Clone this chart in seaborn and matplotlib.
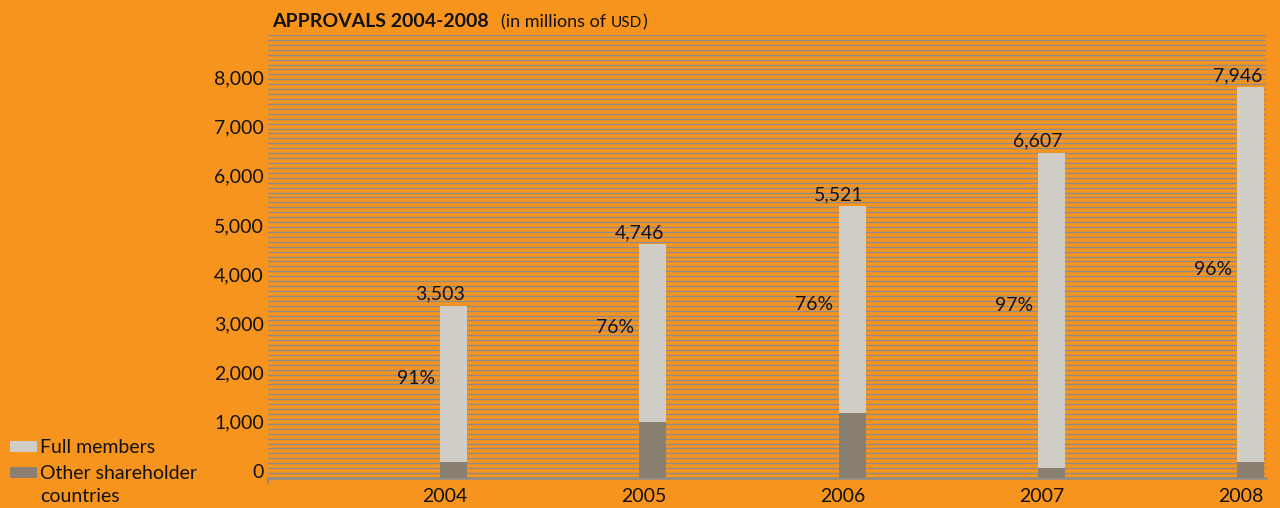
import numpy as np
import pandas as pd
import matplotlib
matplotlib.use("Agg")
import matplotlib.pyplot as plt
from matplotlib.patches import Rectangle
from matplotlib.transforms import ScaledTranslation
import seaborn as sns

# Approvals by year, in millions of USD
years = [2004, 2005, 2006, 2007, 2008]
totals = [3503, 4746, 5521, 6607, 7946]
full_member_share = [91, 76, 76, 97, 96]          # percent of approvals to full members
other_shareholders = [t * (100 - s) / 100 for t, s in zip(totals, full_member_share)]
y_tick_values = list(range(0, 8001, 1000))
legend_labels = ["Full members", "Other shareholder\ncountries"]

ORANGE = "#F7941D"
LIGHT = "#D0CDC6"
DARK = "#8A8072"
GRID = "#8C8C8C"
INK = "#111111"
FS = 14

sns.set_style("white")
plt.rcParams["font.family"] = ["Lato", "DejaVu Sans"]

W, H, DPI = 1280, 508, 100
fig = plt.figure(figsize=(W / DPI, H / DPI), dpi=DPI, facecolor=ORANGE)
ax = fig.add_axes([268 / W, 1 - 478 / H, (1266 - 268) / W, (478 - 35) / H])
ax.set_facecolor(ORANGE)

df = pd.DataFrame({"year": years, "total": totals, "other": other_shareholders})
bw = 0.1355
sns.barplot(data=df, x="year", y="total", native_scale=True, width=bw,
            color=LIGHT, saturation=1, linewidth=0, ax=ax, zorder=3)
sns.barplot(data=df, x="year", y="other", native_scale=True, width=bw,
            color=DARK, saturation=1, linewidth=0, ax=ax, zorder=4)

ax.set_xlim(years[0] + bw / 2 - 1, years[-1] + bw / 2 + 0.01)
ax.set_ylim(0, 9000)

# dense horizontal rules every 100
ax.set_yticks(y_tick_values)
ax.set_yticklabels([f"{v:,}" for v in y_tick_values])
ax.set_yticks(np.arange(0, 9001, 100), minor=True)
ax.grid(True, which="both", axis="y", color=GRID, linewidth=1.0)
ax.grid(False, axis="x")
ax.set_axisbelow(True)
ax.tick_params(axis="y", which="both", length=0, pad=3, labelsize=FS, labelcolor=INK)
for lab in ax.get_yticklabels():
    lab.set_transform(lab.get_transform() + ScaledTranslation(0, 7 / DPI, fig.dpi_scale_trans))

# year ticks sit at the right edge of each bar
ax.set_xticks([y + bw / 2 for y in years])
ax.set_xticklabels([str(y) for y in years], ha="right")
ax.tick_params(axis="x", length=5, width=1.5, color=GRID, pad=2, labelsize=FS, labelcolor=INK)
ax.set_xlabel("")
ax.set_ylabel("")

for side in ["top", "right", "left"]:
    ax.spines[side].set_visible(False)
ax.spines["bottom"].set_color(GRID)
ax.spines["bottom"].set_linewidth(1.8)
ax.plot([0, 0], [0, -0.012], transform=ax.transAxes, color=GRID, lw=1.5, clip_on=False)

# value and share labels
for yr, tot, oth, share in zip(years, totals, other_shareholders, full_member_share):
    ax.annotate(f"{tot:,}", xy=(yr + bw / 2, tot), xytext=(-2, 3), textcoords="offset pixels",
                ha="right", va="bottom", fontsize=FS, color=INK, zorder=6)
    ax.annotate(f"{share}%", xy=(yr - bw / 2, (tot + oth) / 2), xytext=(-5, 0),
                textcoords="offset pixels", ha="right", va="baseline",
                fontsize=FS, color=INK, zorder=6)

# title
t1 = fig.text(272 / W, 1 - 27 / H, "APPROVALS 2004-2008", fontsize=14, fontweight="bold",
              color=INK, va="baseline", ha="left")
t2 = ax.annotate("(in millions of ", xy=(1, 0), xycoords=t1, xytext=(12, 0),
                 textcoords="offset pixels", fontsize=13, color=INK, va="bottom", ha="left")
t3 = ax.annotate("USD", xy=(1, 0), xycoords=t2, xytext=(0, 0),
                 textcoords="offset pixels", fontsize=11, color=INK, va="bottom", ha="left")
ax.annotate(")", xy=(1, 0), xycoords=t3, xytext=(1, 0),
            textcoords="offset pixels", fontsize=13, color=INK, va="bottom", ha="left")

# legend
for (ytop, color), label in zip([(441, LIGHT), (467, DARK)], legend_labels):
    fig.add_artist(Rectangle((10 / W, 1 - (ytop + 11) / H), 27 / W, 11 / H,
                             transform=fig.transFigure, facecolor=color, edgecolor="none"))
    fig.text(40 / W, 1 - (ytop - 2) / H, label, fontsize=FS, color=INK,
             va="top", ha="left", linespacing=1.4)

fig.savefig("out.png", dpi=DPI, facecolor=ORANGE)
